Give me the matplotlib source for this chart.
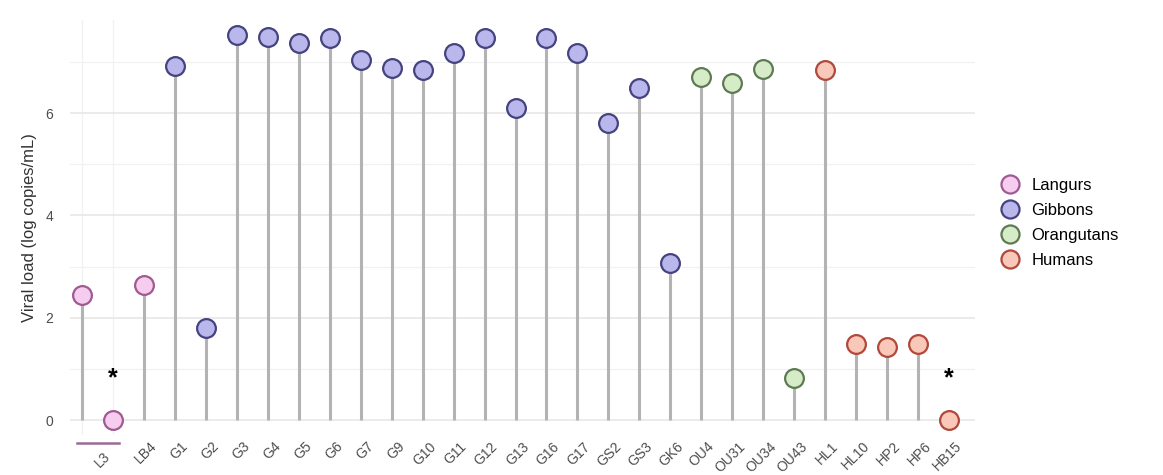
import numpy as np
import matplotlib.pyplot as plt
import matplotlib.transforms as mtransforms
from matplotlib.lines import Line2D

plt.rcParams['font.family'] = ['Liberation Sans', 'DejaVu Sans']

# samples in plotting order (L3 was sampled twice)
samples = ['L3', 'L3', 'LB4', 'G1', 'G2', 'G3', 'G4', 'G5', 'G6', 'G7', 'G9', 'G10',
           'G11', 'G12', 'G13', 'G16', 'G17', 'GS2', 'GS3', 'GK6', 'OU4', 'OU31',
           'OU34', 'OU43', 'HL1', 'HL10', 'HP2', 'HP6', 'HB15']
species = ['Langurs'] * 3 + ['Gibbons'] * 17 + ['Orangutans'] * 4 + ['Humans'] * 5
viral_load = [2.44, 0.0, 2.64, 6.93, 1.80, 7.52, 7.48, 7.38, 7.46, 7.03, 6.89, 6.84,
              7.17, 7.46, 6.11, 7.46, 7.17, 5.80, 6.50, 3.07, 6.70, 6.58,
              6.86, 0.82, 6.84, 1.48, 1.43, 1.48, 0.0]
# samples below detection limit, marked with a star
starred = ['L3', 'HB15']
star_height = 0.82

fills = {'Langurs': '#f6cdee', 'Gibbons': '#b9b7ec',
         'Orangutans': '#d6ecc9', 'Humans': '#f9c8b8'}
edges = {'Langurs': '#a05a92', 'Gibbons': '#45437f',
         'Orangutans': '#5f7a52', 'Humans': '#b0483c'}

fig = plt.figure(figsize=(11.63, 4.75), dpi=100)
ax = fig.add_axes([70 / 1163, 40 / 475, 905 / 1163, 415 / 475])

x = np.arange(len(samples))

ax.set_yticks([0, 2, 4, 6])
ax.set_yticks([1, 3, 5, 7], minor=True)
ax.set_xticks(x, minor=True)
ax.grid(which='major', axis='y', color='#e6e6e6', linewidth=1.1)
ax.grid(which='minor', color='#f1f1f1', linewidth=0.9)
ax.set_axisbelow(True)

ax.vlines(x, 0, viral_load, color='#b3b3b3', linewidth=2.2, zorder=2)
for xi, v, sp in zip(x, viral_load, species):
    ax.plot(xi, v, 'o', markersize=13.5, markerfacecolor=fills[sp],
            markeredgecolor=edges[sp], markeredgewidth=1.6, zorder=3)

# stars over the undetected samples (last occurrence of each name)
for name in starred:
    idx = len(samples) - 1 - samples[::-1].index(name)
    ax.text(idx, star_height, '*', ha='center', va='center', fontsize=18,
            color='black', fontweight='bold')

# tick labels: L3 centred under its two points
tick_pos = [0.5] + list(x[2:])
tick_lab = ['L3'] + samples[2:]
ax.set_xticks(tick_pos)
ax.set_xticklabels(tick_lab, rotation=45, ha='right', va='top',
                   rotation_mode='anchor', fontsize=10, color='#4d4d4d')
ax.tick_params(axis='x', which='both', length=0, pad=3)
ax.tick_params(axis='y', which='both', length=0, labelsize=10,
               labelcolor='#4d4d4d', pad=12)
shift = mtransforms.ScaledTranslation(6 / 100, 0, fig.dpi_scale_trans)
for lab in ax.get_xticklabels():
    lab.set_transform(lab.get_transform() + shift)
# L3 label sits further down, below the bracket
ax.get_xticklabels()[0].set_y(-0.025)
ax.plot([-0.15, 1.2], [-0.45, -0.45], color='#9a6a9a', linewidth=1.8,
        clip_on=False)

ax.set_xlim(-0.39, 28.84)
ax.set_ylim(-0.29, 7.82)
for s in ax.spines.values():
    s.set_visible(False)
ax.set_ylabel('Viral load (log copies/mL)', fontsize=12, color='#333333',
              labelpad=6)

handles = [Line2D([], [], linestyle='', marker='o', markersize=13,
                  markerfacecolor=fills[k], markeredgecolor=edges[k],
                  markeredgewidth=1.6, label=k) for k in fills]
fig.legend(handles=handles, loc='center left', bbox_to_anchor=(993 / 1163, 0.53),
           frameon=False, fontsize=12, handletextpad=0.7, labelspacing=0.6,
           borderaxespad=0, handlelength=1.2)

fig.savefig('out.png', dpi=100)
